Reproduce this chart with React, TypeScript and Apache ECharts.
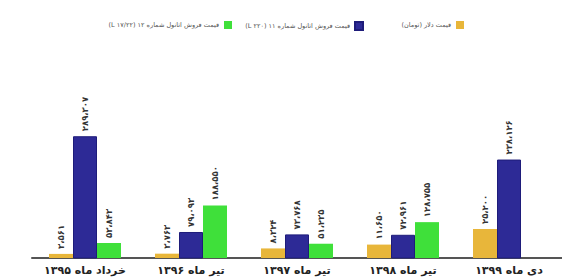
import React, { useEffect, useRef } from "react";
import * as echarts from "echarts";

const categories = ["خرداد ماه ۱۳۹۵", "تیر ماه ۱۳۹۶", "تیر ماه ۱۳۹۷", "تیر ماه ۱۳۹۸", "دی ماه ۱۳۹۹"];
const seriesNames = ["قیمت دلار (تومان)", "قیمت فروش اتانول شماره ۱۱ (۲۲۰ L)", "قیمت فروش اتانول شماره ۱۲ (۱۷/۲۲ L)"];
const dollarValues = [3561, 3763, 8324, 11650, 25200];
const ethanol11Values = [289307, 79093, 73768, 72961, 238126];
const ethanol12Values: (number | null)[] = [53843, 188550, 51235, 128755, null];

const colors = ["#e8b63a", "#2d2a96", "#3fe03a"];

const rtl = (s: string) => "\u202B" + s + "\u202C";

const toFa = (n: number) =>
  n
    .toLocaleString("en-US")
    .replace(/\d/g, (d) => "۰۱۲۳۴۵۶۷۸۹"[+d])
    .replace(/,/g, "،");

export default function App() {
  const ref = useRef<HTMLDivElement>(null);
  useEffect(() => {
    document.body.style.margin = "0";
    const chart = echarts.init(ref.current!, undefined, { renderer: "svg" });
    const font = "DejaVu Sans";
    const names = seriesNames.map(rtl);
    const label = {
      show: true,
      position: "top",
      rotate: 90,
      align: "left",
      verticalAlign: "middle",
      distance: 5,
      fontSize: 8.5,
      fontWeight: "bold",
      fontFamily: font,
      color: "#333",
      formatter: (p: any) => (p.value == null ? "" : toFa(p.value)),
    };
    const legendBase = {
      top: 16,
      align: "right",
      icon: "rect",
      itemWidth: 8,
      itemHeight: 8,
      textStyle: { fontSize: 6.5, color: "#555", fontFamily: font },
    };
    chart.setOption({
      animation: false,
      backgroundColor: "#ffffff",
      legend: [
        { ...legendBase, data: [names[0]], right: 93 },
        { ...legendBase, data: [names[1]], right: 193 },
        { ...legendBase, data: [names[2]], right: 325 },
      ],
      grid: { left: 32, right: 0, top: 38, bottom: 22 },
      xAxis: {
        type: "category",
        data: categories,
        axisTick: { show: false },
        axisLine: { onZero: false, lineStyle: { color: "#555", width: 2 } },
        axisLabel: { interval: 0, fontSize: 11, fontWeight: "bold", color: "#222", fontFamily: font, margin: 7 },
      },
      yAxis: [
        { type: "value", show: false, min: 0, max: 191200, splitLine: { show: false } },
        { type: "value", show: false, min: 22000, max: 505000, splitLine: { show: false } },
        { type: "value", show: false, min: 0, max: 790000, splitLine: { show: false } },
      ],
      series: [
        {
          name: names[0],
          type: "bar",
          yAxisIndex: 0,
          data: dollarValues,
          barWidth: 24,
          barGap: "0%",
          itemStyle: { color: colors[0] },
          label,
        },
        {
          name: names[1],
          type: "bar",
          yAxisIndex: 1,
          data: ethanol11Values,
          barWidth: 24,
          barGap: "0%",
          itemStyle: { color: colors[1], borderColor: "#1e1c7a", borderWidth: 1 },
          label,
        },
        {
          name: names[2],
          type: "bar",
          yAxisIndex: 2,
          data: ethanol12Values,
          barWidth: 24,
          barGap: "0%",
          itemStyle: { color: colors[2] },
          label,
        },
      ],
    });
    return () => chart.dispose();
  }, []);
  return <div ref={ref} style={{ width: 562, height: 280 }} />;
}
